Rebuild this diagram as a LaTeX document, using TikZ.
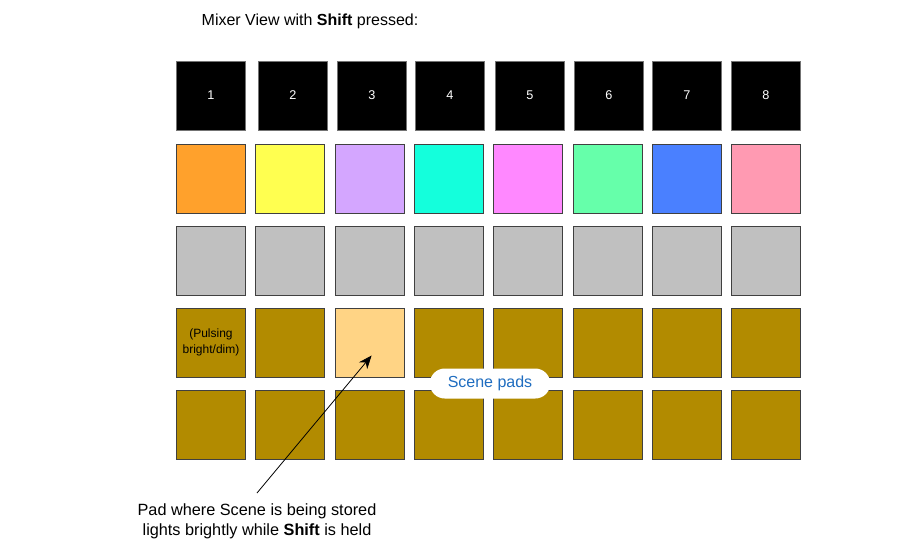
\documentclass[tikz,border=0pt]{standalone}
\usepackage{fontspec}
\setmainfont{Liberation Sans}
\usetikzlibrary{positioning, arrows.meta, calc, shapes.misc}
\definecolor{padorange}{HTML}{FFA12C}
\definecolor{padyellow}{HTML}{FFFF50}
\definecolor{padlilac}{HTML}{D4A6FF}
\definecolor{padcyan}{HTML}{14FFDC}
\definecolor{padpink}{HTML}{FF88FF}
\definecolor{padmint}{HTML}{66FFAA}
\definecolor{padblue}{HTML}{4A80FF}
\definecolor{padrose}{HTML}{FF9AB2}
\definecolor{padgray}{HTML}{C0C0C0}
\definecolor{padolive}{HTML}{B28B00}
\definecolor{padlight}{HTML}{FFD485}
\definecolor{calloutblue}{HTML}{1F6DC0}

\begin{document}
\begin{tikzpicture}[x=0.75pt, y=-0.75pt,
    every node/.style={align=center, font=\fontsize{12}{14}\selectfont},
    pad/.style={draw=black!75, line width=0.6pt, minimum size=51.75pt, inner sep=0pt},
    tracklabel/.style={text=white, font=\fontsize{9.5}{11}\selectfont}]
    \useasboundingbox (0,0) rectangle (923,553);

    \node (title) at (310, 21) {Mixer View with \textbf{Shift} pressed:};

    % track buttons
    \foreach \i/\cx in {1/211, 2/293, 3/372, 4/450, 5/530, 6/609, 7/687, 8/766}
      \node[pad, fill=black, draw=black!55, tracklabel] (t\i) at (\cx, 95.5) {\i};

    % clip colours
    \foreach \i/\c in {1/padorange, 2/padyellow, 3/padlilac, 4/padcyan, 5/padpink, 6/padmint, 7/padblue, 8/padrose}
      \node[pad, fill=\c] (c\i) at ({211+79.3*(\i-1)}, 178.5) {};

    % gray row
    \foreach \i in {1,...,8}
      \node[pad, fill=padgray] (g\i) at ({211+79.3*(\i-1)}, 260.5) {};

    % scene rows
    \foreach \i in {1,...,8} {
      \node[pad, fill=padolive] (s\i) at ({211+79.3*(\i-1)}, 342.5) {};
      \node[pad, fill=padolive] (r\i) at ({211+79.3*(\i-1)}, 424.5) {};
    }
    \node[pad, fill=padlight] at (s3) {};
    \node[font=\fontsize{9}{11.5}\selectfont] at (s1) {(Pulsing\\bright/dim)};

    \node[rounded rectangle, fill=white, minimum width=97pt, minimum height=22.5pt,
          text=calloutblue, font=\fontsize{12}{14}\selectfont] (scenes) at (490, 383.5) {Scene pads};

    \node[font=\fontsize{12.2}{15}\selectfont] (note) at (257, 521.5) {Pad where Scene is being stored\\lights brightly while \textbf{Shift} is held};
    \coordinate (tail) at (257, 493);
    \draw[-{Stealth[length=10pt, width=8pt]}, line width=0.6pt] (tail) -- ($(s3.center)+(2,13)$);
  \end{tikzpicture}
\end{document}
